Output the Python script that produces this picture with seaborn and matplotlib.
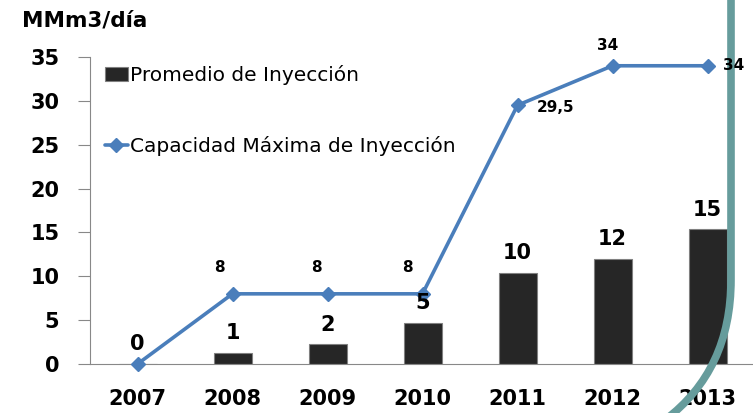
import numpy as np
import pandas as pd
import matplotlib
matplotlib.use("Agg")
import matplotlib.pyplot as plt
import seaborn as sns
from matplotlib.path import Path
from matplotlib.patches import PathPatch

years = ["2007", "2008", "2009", "2010", "2011", "2012", "2013"]
promedio = [0.0, 1.3, 2.25, 4.65, 10.35, 11.95, 15.35]
capacidad = [0, 8, 8, 8, 29.5, 34, 34]
cap_labels = [None, "8", "8", "8", "29,5", "34", "34"]
y_ticks = [0, 5, 10, 15, 20, 25, 30, 35]

sns.set_theme(style="white")
plt.rcParams["font.family"] = ["DejaVu Sans"]
plt.rcParams["text.color"] = "black"
plt.rcParams["xtick.color"] = "black"
plt.rcParams["ytick.color"] = "black"

df = pd.DataFrame({"year": years, "promedio": promedio, "capacidad": capacidad})

fig = plt.figure(figsize=(7.53, 4.13), dpi=100)
ax = fig.add_axes([90 / 753, 1 - 364 / 413, 665 / 753, 307 / 413])

bar_color = "#262626"
line_color = "#4a7ebb"

sns.barplot(data=df, x="year", y="promedio", color=bar_color, width=0.4,
            edgecolor="#808080", linewidth=0.8, saturation=1,
            label="Promedio de Inyección", ax=ax, zorder=2)
ax.plot(np.arange(len(years)), df["capacidad"], color=line_color, lw=2.6,
        marker="D", markersize=7, label="Capacidad Máxima de Inyección",
        zorder=4, clip_on=False)

# bar labels
ax.bar_label(ax.containers[0], labels=[str(int(round(v))) for v in promedio],
             padding=7, fontsize=15, fontweight="bold", color="black", zorder=6)

# line labels
offsets = [None, (-13, 26), (-11, 26), (-15, 26), (38, -2), (-5, 20), (26, 0)]
for i, (lab, off) in enumerate(zip(cap_labels, offsets)):
    if lab is None:
        continue
    ax.annotate(lab, (i, capacidad[i]), xytext=off, textcoords="offset pixels",
                ha="center", va="center", fontsize=11, fontweight="bold",
                color="black", zorder=6, annotation_clip=False)

ax.set_ylim(0, 35)
ax.set_xlim(-0.5, 6.5)
ax.set_yticks(y_ticks)
ax.set_yticklabels([str(t) for t in y_ticks], fontsize=15, fontweight="bold")
ax.set_xticks(np.arange(len(years)))
ax.set_xticklabels(years, fontsize=15, fontweight="bold")
ax.set_xticks(np.arange(-0.5, 7.0, 1.0), minor=True)
ax.tick_params(axis="x", which="major", length=0, pad=18, labelcolor="black")
ax.tick_params(axis="x", which="minor", length=6, width=0.8, color="#888888", direction="out")
ax.tick_params(axis="y", length=9, width=0.8, color="#888888", direction="out", pad=13,
               labelcolor="black", left=True)
ax.set_xlabel("")
ax.set_ylabel("")
for s in ["top", "right"]:
    ax.spines[s].set_visible(False)
for s in ["left", "bottom"]:
    ax.spines[s].set_color("#888888")
    ax.spines[s].set_linewidth(0.8)

handles, labels = ax.get_legend_handles_labels()
order = [labels.index("Promedio de Inyección"), labels.index("Capacidad Máxima de Inyección")]
leg = ax.legend([handles[i] for i in order], [labels[i] for i in order],
                loc="upper left", bbox_to_anchor=(0.022, 0.975), frameon=False,
                fontsize=14.5, labelspacing=2.55, handlelength=1.15, handletextpad=0.1,
                borderpad=0, borderaxespad=0, labelcolor="black")

fig.text(22 / 753, 1 - 20 / 413, "MMm3/día", fontsize=15.5, fontweight="bold",
         ha="left", va="center", color="black")

# decorative teal curve
pts = [(731, -10), (731, 280), (731, 370), (665, 420)]
verts = [(x / 753, 1 - y / 413) for x, y in pts]
path = Path(verts, [Path.MOVETO, Path.LINETO, Path.CURVE3, Path.CURVE3])
patch = PathPatch(path, fill=False, edgecolor="#669c9c", lw=5.5,
                  transform=fig.transFigure, clip_on=False, zorder=3)
ax.add_artist(patch)

fig.savefig("out.png", dpi=100)
